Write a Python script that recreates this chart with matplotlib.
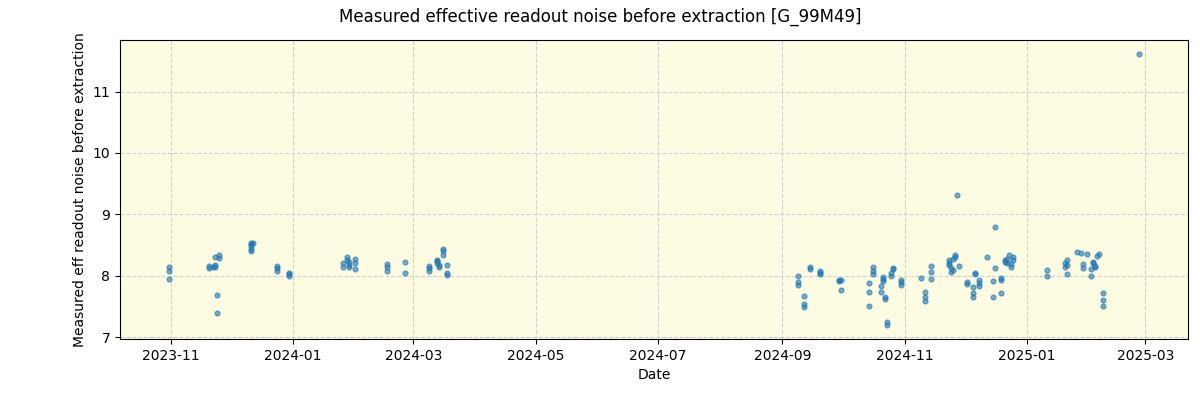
import matplotlib
matplotlib.use("Agg")
import matplotlib.pyplot as plt
import matplotlib.dates as mdates
import pandas as pd

dates = [
    "2023-10-31", "2023-10-31", "2023-10-31",
    "2023-11-20", "2023-11-20", "2023-11-22", "2023-11-23", "2023-11-23", "2023-11-24", "2023-11-24",
    "2023-11-23", "2023-11-25", "2023-11-25",
    "2023-12-11", "2023-12-11", "2023-12-11", "2023-12-11", "2023-12-11", "2023-12-12",
    "2023-12-24", "2023-12-24", "2023-12-24",
    "2023-12-30", "2023-12-30", "2023-12-30",
    "2024-01-26", "2024-01-26", "2024-01-28", "2024-01-28", "2024-01-29", "2024-01-29", "2024-01-29",
    "2024-02-01", "2024-02-01", "2024-02-01",
    "2024-02-17", "2024-02-17", "2024-02-17",
    "2024-02-26", "2024-02-26",
    "2024-03-09", "2024-03-09", "2024-03-09",
    "2024-03-13", "2024-03-13", "2024-03-13", "2024-03-14", "2024-03-14",
    "2024-03-16", "2024-03-16", "2024-03-16",
    "2024-03-18", "2024-03-18", "2024-03-18",
    "2024-09-09", "2024-09-09", "2024-09-09",
    "2024-09-12", "2024-09-12", "2024-09-12",
    "2024-09-15", "2024-09-15",
    "2024-09-20", "2024-09-20", "2024-09-20",
    "2024-09-29", "2024-09-29", "2024-09-30", "2024-09-30",
    "2024-10-14", "2024-10-14", "2024-10-14",
    "2024-10-16", "2024-10-16", "2024-10-16",
    "2024-10-20", "2024-10-20",
    "2024-10-21", "2024-10-21", "2024-10-21",
    "2024-10-22", "2024-10-22",
    "2024-10-23", "2024-10-23",
    "2024-10-25", "2024-10-25",
    "2024-10-26", "2024-10-26",
    "2024-10-30", "2024-10-30", "2024-10-30",
    "2024-11-09",
    "2024-11-11", "2024-11-11", "2024-11-11",
    "2024-11-14", "2024-11-14", "2024-11-14",
    "2024-11-23", "2024-11-23", "2024-11-23",
    "2024-11-24", "2024-11-24",
    "2024-11-25", "2024-11-25",
    "2024-11-26", "2024-11-26",
    "2024-11-27",
    "2024-11-28",
    "2024-12-02", "2024-12-02",
    "2024-12-05", "2024-12-05", "2024-12-05",
    "2024-12-06", "2024-12-06",
    "2024-12-08", "2024-12-08", "2024-12-08",
    "2024-12-12",
    "2024-12-15", "2024-12-15",
    "2024-12-16", "2024-12-16",
    "2024-12-19", "2024-12-19", "2024-12-19",
    "2024-12-21", "2024-12-21",
    "2024-12-22", "2024-12-22",
    "2024-12-23",
    "2024-12-24", "2024-12-24",
    "2024-12-25", "2024-12-25",
    "2025-01-11", "2025-01-11",
    "2025-01-20", "2025-01-20",
    "2025-01-21", "2025-01-21", "2025-01-21",
    "2025-01-26", "2025-01-28",
    "2025-01-29", "2025-01-29",
    "2025-01-31",
    "2025-02-02", "2025-02-02",
    "2025-02-03", "2025-02-03",
    "2025-02-04", "2025-02-04",
    "2025-02-05", "2025-02-06",
    "2025-02-08", "2025-02-08", "2025-02-08",
    "2025-02-26",
]

values = [
    8.15, 8.08, 7.95,
    8.16, 8.13, 8.15, 8.18, 8.14, 7.68, 7.39,
    8.31, 8.33, 8.29,
    8.53, 8.51, 8.48, 8.44, 8.40, 8.54,
    8.16, 8.12, 8.07,
    8.04, 8.02, 7.99,
    8.20, 8.15, 8.31, 8.25, 8.22, 8.17, 8.15,
    8.28, 8.20, 8.11,
    8.19, 8.14, 8.07,
    8.22, 8.04,
    8.16, 8.13, 8.08,
    8.26, 8.24, 8.21, 8.18, 8.14,
    8.44, 8.40, 8.34,
    8.18, 8.05, 8.01,
    8.00, 7.89, 7.85,
    7.67, 7.54, 7.49,
    8.14, 8.11,
    8.08, 8.05, 8.02,
    7.93, 7.91, 7.93, 7.77,
    7.88, 7.73, 7.51,
    8.14, 8.07, 8.02,
    7.84, 7.73,
    7.98, 7.95, 7.91,
    7.66, 7.62,
    7.25, 7.19,
    7.99, 8.04,
    8.13, 8.11,
    7.93, 7.89, 7.85,
    7.97,
    7.73, 7.66, 7.58,
    8.16, 8.06, 7.95,
    8.21, 8.25, 8.18,
    8.13, 8.06,
    8.10, 8.28,
    8.31, 8.34,
    9.32,
    8.16,
    7.89, 7.87,
    7.82, 7.72, 7.65,
    8.04, 8.02,
    7.93, 7.88, 7.84,
    8.30,
    7.91, 7.65,
    8.80, 8.13,
    7.96, 7.93, 7.72,
    8.23, 8.25,
    8.27, 8.21,
    8.33,
    8.19, 8.14,
    8.31, 8.26,
    8.10, 8.00,
    8.21, 8.15,
    8.25, 8.17, 8.03,
    8.38, 8.37,
    8.19, 8.13,
    8.36,
    8.11, 8.00,
    8.23, 8.20,
    8.16, 8.14,
    8.32, 8.35,
    7.72, 7.61, 7.51,
    11.62,
]

title = "Measured effective readout noise before extraction [G_99M49]"
xlabel = "Date"
ylabel = "Measured eff readout noise before extraction"

x = pd.to_datetime(dates)

fig = plt.figure(figsize=(12, 4), dpi=100)
ax = fig.add_axes([0.1, 0.1525, 0.89, 0.7475])
ax.set_facecolor("#fdfce3")
ax.scatter(x, values, s=12, color="#1f77b4", alpha=0.6, zorder=3)
ax.grid(True, linestyle="--", color="#d0d0d8", linewidth=0.8, zorder=0)
ax.set_axisbelow(True)
ax.xaxis.set_major_locator(mdates.MonthLocator(bymonth=[1, 3, 5, 7, 9, 11]))
ax.xaxis.set_major_formatter(mdates.DateFormatter("%Y-%m"))
ax.set_xlabel(xlabel)
ax.set_ylabel(ylabel)
fig.suptitle(title, fontsize=12, y=0.98)
fig.savefig("out.png", dpi=100)
